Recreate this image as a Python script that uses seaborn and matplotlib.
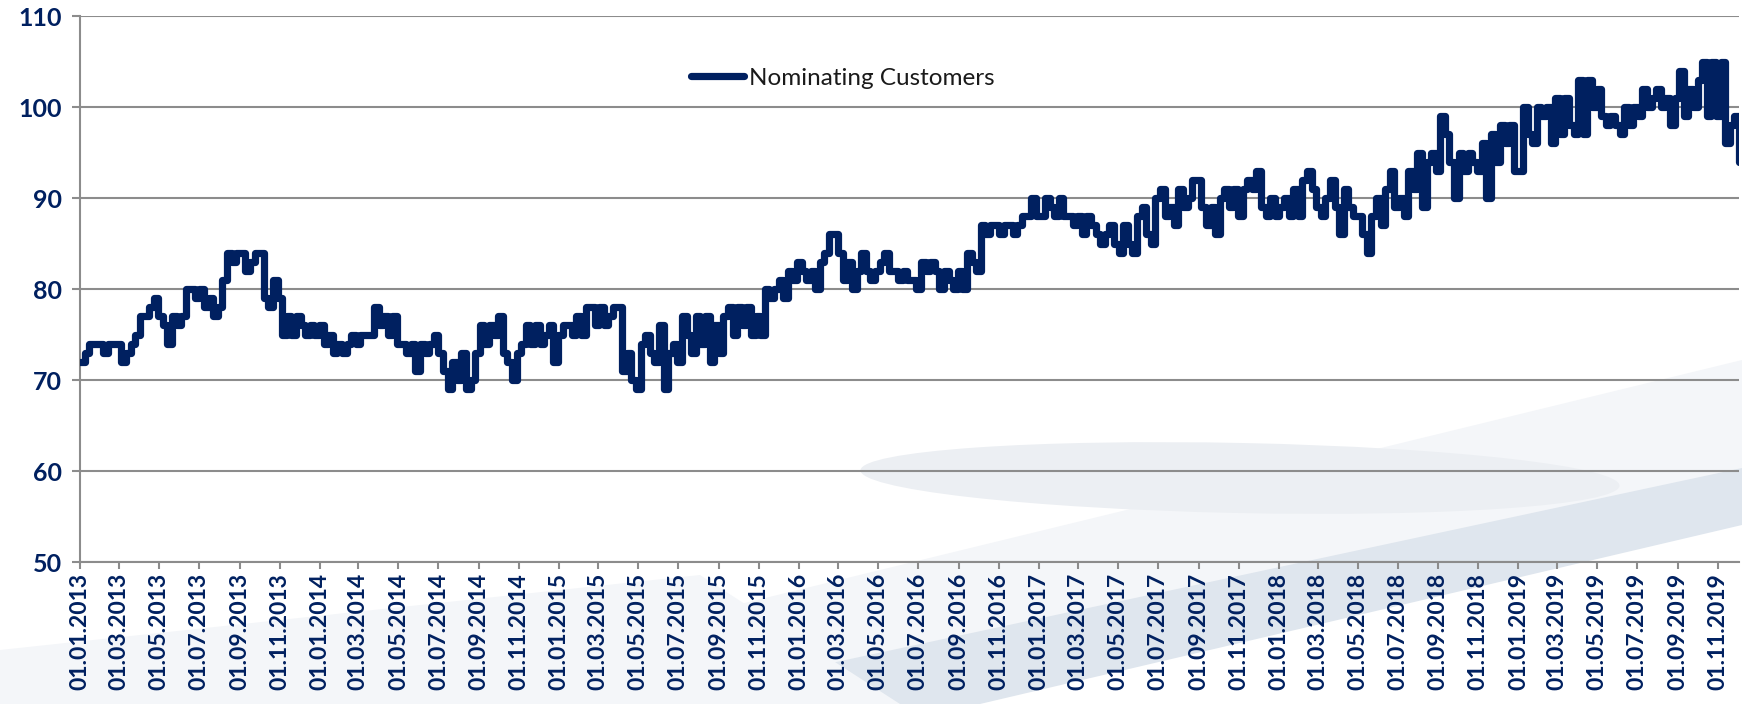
import numpy as np
import pandas as pd
import matplotlib.pyplot as plt
import matplotlib.dates as mdates
from matplotlib.patches import Polygon, Ellipse
import seaborn as sns

# weekly readings of nominating customers, starting 01.01.2013
weeks_2013 = [72, 73, 74, 74, 74, 73, 74, 74, 74, 72,
              73, 74, 75, 77, 77, 78, 79, 77, 76, 74,
              77, 76, 77, 80, 80, 79, 80, 78, 79, 77,
              78, 81, 84, 83, 84, 84, 82, 83, 84, 84,
              79, 78, 81, 79, 75, 77, 75, 77, 76, 75,
              76, 75, 76]
weeks_2014 = [74, 75, 73, 74, 73, 74, 75, 74, 75, 75,
              75, 78, 76, 77, 75, 77, 74, 74, 73, 74,
              71, 74, 73, 74, 75, 73, 71, 69, 72, 70,
              73, 69, 70, 73, 76, 74, 76, 75, 77, 73,
              72, 70, 73, 74, 76, 74, 76, 74, 75, 76,
              72, 75, 76]
weeks_2015 = [76, 75, 77, 75, 78, 78, 76, 78, 76, 77,
              78, 78, 71, 73, 70, 69, 74, 75, 73, 72,
              76, 69, 73, 74, 72, 77, 75, 73, 77, 74,
              77, 72, 76, 73, 77, 78, 75, 78, 76, 78,
              75, 77, 75, 80, 79, 80, 81, 79, 82, 81,
              83]
weeks_2016 = [82, 81, 82, 80, 83, 84, 86, 86, 84, 81,
              83, 80, 82, 84, 82, 81, 82, 83, 84, 82,
              82, 81, 82, 81, 81, 80, 83, 82, 83, 82,
              80, 82, 81, 80, 82, 80, 84, 83, 82, 87,
              86, 87, 87, 86, 87, 87, 86, 87, 88, 88,
              90, 88]
weeks_2017 = [88, 90, 89, 88, 90, 88, 88, 87, 88, 86,
              88, 87, 86, 85, 86, 87, 85, 84, 87, 85,
              84, 88, 89, 86, 85, 90, 91, 88, 89, 87,
              91, 89, 90, 92, 92, 89, 87, 89, 86, 90,
              91, 89, 91, 88, 91, 92, 91, 93, 89, 88,
              90, 88]
weeks_2018 = [89, 90, 88, 91, 88, 92, 93, 91, 89, 88,
              90, 92, 89, 86, 91, 89, 88, 88, 86, 84,
              88, 90, 87, 91, 93, 89, 90, 88, 93, 91,
              95, 89, 94, 95, 93, 99, 97, 94, 90, 95,
              93, 95, 94, 93, 96, 90, 97, 94, 98, 96,
              98, 93, 93, 100]
weeks_2019 = [97, 96, 100, 99, 100, 96, 101, 97, 101, 98,
              97, 103, 97, 103, 100, 102, 99, 98, 99, 98,
              97, 100, 98, 100, 99, 102, 100, 101, 102, 100,
              101, 98, 101, 104, 99, 102, 100, 103, 105, 99,
              105, 99, 105, 96, 98, 99, 94]

customers = (weeks_2013 + weeks_2014 + weeks_2015 + weeks_2016
             + weeks_2017 + weeks_2018 + weeks_2019)
dates = pd.date_range("2013-01-01", periods=len(customers), freq="7D")
df = pd.DataFrame({"Date": dates, "Nominating Customers": customers})

tick_dates = pd.date_range("2013-01-01", "2019-11-01", freq="2MS")
y_ticks = [50, 60, 70, 80, 90, 100, 110]

navy = "#002060"
grey = "#8c8c8c"

sns.set_theme(style="white")
plt.rcParams["font.family"] = ["Lato", "DejaVu Sans"]

W, H = 1742, 704
fig = plt.figure(figsize=(W / 100, H / 100), dpi=100)


def fpt(x, y):
    return (x / W, 1 - y / H)


# faint background swooshes (bottom right)
fig.add_artist(Polygon([fpt(330, 704), fpt(1742, 360), fpt(1742, 470), fpt(640, 704)],
                       closed=True, transform=fig.transFigure,
                       facecolor="#f4f6f9", edgecolor="none", zorder=0))
fig.add_artist(Ellipse(fpt(1240, 478), 760 / W, 70 / H, angle=-3,
                       transform=fig.transFigure, facecolor="#eceff3",
                       edgecolor="none", zorder=0))
fig.add_artist(Polygon([fpt(640, 704), fpt(1742, 468), fpt(1742, 525), fpt(980, 704)],
                       closed=True, transform=fig.transFigure,
                       facecolor="#dfe6ee", edgecolor="none", zorder=0))
fig.add_artist(Polygon([fpt(0, 650), fpt(700, 575), fpt(900, 704), fpt(0, 704)],
                       closed=True, transform=fig.transFigure,
                       facecolor="#f4f6f9", edgecolor="none", zorder=0))

ax = fig.add_axes([80 / W, 1 - 562 / H, (1739 - 80) / W, (562 - 16) / H])
ax.set_facecolor("none")

sns.lineplot(data=df, x="Date", y="Nominating Customers", ax=ax,
             color=navy, linewidth=5.2, drawstyle="steps-post",
             label="Nominating Customers", zorder=3)

ax.set_xlim(dates[0], dates[-1])
ax.set_ylim(50, 110)
ax.set_yticks(y_ticks)
ax.set_xticks(tick_dates)
ax.xaxis.set_major_formatter(mdates.DateFormatter("%d.%m.%Y"))

ax.grid(axis="y", color=grey, linewidth=1.5, zorder=1)
ax.grid(axis="x", visible=False)
for side in ["top", "right"]:
    ax.spines[side].set_visible(False)
for side in ["left", "bottom"]:
    ax.spines[side].set_color(grey)
    ax.spines[side].set_linewidth(1.5)

ax.tick_params(axis="y", direction="out", length=6, width=1.5, color=grey,
               pad=7, labelsize=18, labelcolor=navy, left=True)
ax.tick_params(axis="x", direction="out", length=5, width=1.5, color=grey,
               pad=3, labelsize=16.5, labelcolor=navy, bottom=True,
               labelrotation=90)
for lbl in ax.get_xticklabels() + ax.get_yticklabels():
    lbl.set_fontweight("bold")

ax.set_xlabel("")
ax.set_ylabel("")

ax.legend(loc="center left", bbox_to_anchor=(0.368, 0.886), frameon=False,
          fontsize=17.5, handlelength=2.2, handletextpad=0.2, borderpad=0,
          borderaxespad=0, labelcolor="#1a1a1a")

fig.savefig("out.png", dpi=100)
